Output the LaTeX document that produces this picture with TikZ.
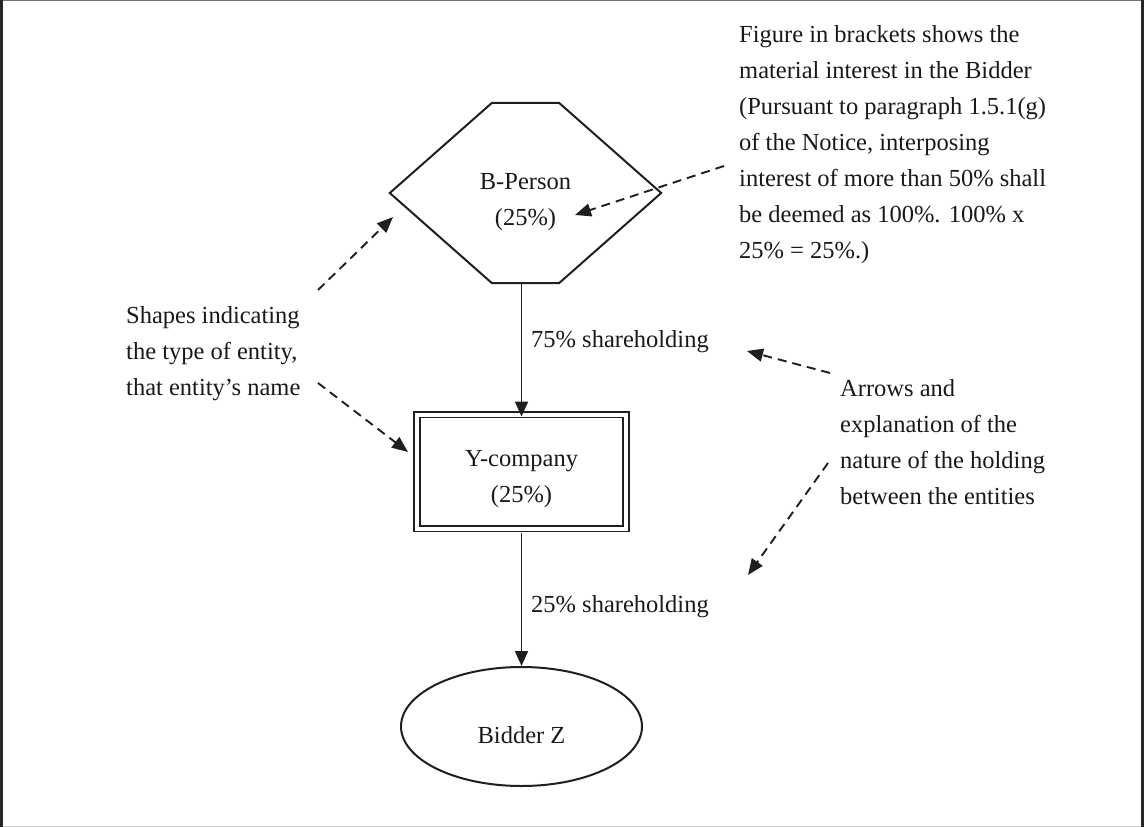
\documentclass[tikz,border=0pt]{standalone}
\usepackage{fontspec}
\setmainfont{Liberation Serif}
\usetikzlibrary{shapes.geometric,arrows.meta,calc}
\begin{document}
\begin{tikzpicture}[x=1pt,y=-1pt,
  txt/.style={font=\fontsize{24.5}{36}\selectfont, inner sep=0pt, align=left, text=black!90},
  ctxt/.style={font=\fontsize{24.5}{36}\selectfont, inner sep=0pt, align=center, text=black!90},
  shapeline/.style={line width=2pt, draw=black!88},
  solidarrow/.style={line width=1.9pt, draw=black!88, -{Triangle[length=15pt,width=13pt]}},
  dasharrow/.style={line width=1.9pt, draw=black!88, dash pattern=on 9pt off 6pt, -{Triangle[length=16pt,width=13pt]}},
]
\useasboundingbox (0,0) rectangle (1144,827);
% frame
\draw[black!55, line width=1pt] (0,0.5) -- (1144,0.5);
\draw[black!20, line width=1pt] (0,826.5) -- (1144,826.5);
\draw[black!85, line width=2.5pt] (1.5,0) -- (1.5,827);
\draw[black!85, line width=2.5pt] (1142.5,0) -- (1142.5,827);

% B-Person hexagon
\node[minimum width=271pt, minimum height=180pt, inner sep=0pt] (bp) at (525.5,193) {};
\draw[shapeline] ([xshift=-33.5pt]bp.north) -- ([xshift=33.5pt]bp.north) -- (bp.east)
  -- ([xshift=33.5pt]bp.south) -- ([xshift=-33.5pt]bp.south) -- (bp.west) -- cycle;
\node[ctxt] (bptxt) at ([yshift=-9.5pt]bp.center) {B-Person\\(25\%)};

% Y-company double box
\node[draw=black!88, double, double distance=4pt, line width=1.9pt, minimum width=209pt, minimum height=114pt, inner sep=0pt] (yc) at (521.5,471.5) {};
\node[ctxt] (yctxt) at ([yshift=-7.5pt]yc.center) {Y-company\\(25\%)};

% Bidder Z ellipse
\node[draw=black!88, ellipse, line width=2pt, minimum width=241pt, minimum height=119pt, inner sep=0pt] (bz) at (521.5,726.5) {};
\node[ctxt] (bztxt) at ([yshift=-8.5pt]bz.center) {Bidder Z};

% solid arrows
\draw[solidarrow] (bp.south -| yc.north) -- ([yshift=-3pt]yc.north);
\draw[solidarrow] ([yshift=-3.5pt]yc.south) -- (bz.north);
\node[txt, anchor=west] (l75) at (531,342) {75\% shareholding};
\node[txt, anchor=west] (l25) at (531,607) {25\% shareholding};

% annotation texts
\node[txt, anchor=west] (figure) at (739,145) {Figure in brackets shows the\\material interest in the Bidder\\(Pursuant to paragraph 1.5.1(g)\\of the Notice, interposing\\interest of more than 50\% shall\\be deemed as 100\%. 100\% x\\25\% = 25\%.)};
\node[txt, anchor=west] (shapes) at (126,354) {Shapes indicating\\the type of entity,\\that entity’s name};
\node[txt, anchor=west] (arrows) at (840,442) {Arrows and\\explanation of the\\nature of the holding\\between the entities};

% dashed pointer arrows
\coordinate (s1) at (318,290); \coordinate (e1) at (393,217);
\coordinate (s2) at (318,383); \coordinate (e2) at (408,452);
\coordinate (s3) at (724,166); \coordinate (e3) at (575,215);
\coordinate (s4) at (830,373); \coordinate (e4) at (747,351);
\coordinate (s5) at (828,463); \coordinate (e5) at (748,575);
\draw[dasharrow] (s1) -- (e1);
\draw[dasharrow] (s2) -- (e2);
\draw[dasharrow] (s3) -- (e3);
\draw[dasharrow] (s4) -- (e4);
\draw[dasharrow] (s5) -- (e5);
\end{tikzpicture}
\end{document}
